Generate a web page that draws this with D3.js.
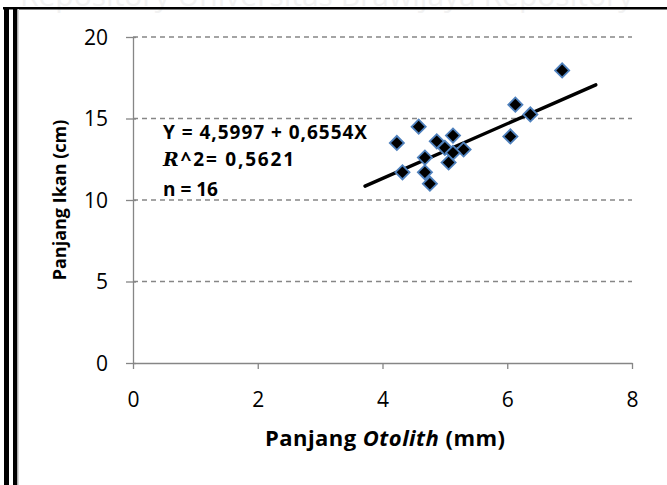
<!DOCTYPE html>
<html>
<head>
<meta charset="UTF-8"/>
<title>Panjang Otolith vs Panjang Ikan</title>
<script src="https://d3js.org/d3.v7.min.js"></script>
<style>
body { margin: 0; background: #fff; }
svg { display: block; font-family: 'Open Sans', sans-serif; }
.axis path, .axis line { stroke: #868686; stroke-width: 1.3; }
.axis text { font-size: 21px; fill: #000; font-family: 'Open Sans', sans-serif; }
.grid line { stroke: #868686; stroke-width: 1.6; stroke-dasharray: 5 4; }
.label { font-weight: 700; fill: #000; }
.eq { font-size: 19px; font-weight: 700; fill: #000; }
</style>
</head>
<body>
<svg width="667" height="485"></svg>
<script>
// data
const otolith = [6.88, 6.13, 6.37, 6.05, 4.58, 4.23, 4.87, 5.13, 5.30, 4.68, 5.00, 5.13, 5.06, 4.32, 4.68, 4.76];
const ikan    = [17.95, 15.85, 15.25, 13.9, 14.5, 13.5, 13.6, 13.95, 13.1, 12.6, 13.2, 12.9, 12.3, 11.7, 11.7, 11.0];
const xTicks = [0, 2, 4, 6, 8];
const yTicks = [0, 5, 10, 15, 20];
// trend line as drawn in the picture
const trendX = [3.72, 7.42];
const trendA = 4.6, trendB = 1.68;
const eqLines = ['Y = 4,5997 + 0,6554X', '^2= 0,5621', 'n = 16'];

const svg = d3.select('svg');

// faint watermark and page frame
svg.append('text')
  .attr('x', 20).attr('y', 6)
  .attr('font-size', 30)
  .attr('fill', '#f2f2f2')
  .text('Repository Universitas Brawijaya     Repository');

svg.append('rect').attr('x', 3).attr('y', 7).attr('width', 670).attr('height', 2.5).attr('fill', '#000');
svg.append('rect').attr('x', 4).attr('y', 7).attr('width', 5).attr('height', 480).attr('fill', '#000');
svg.append('rect').attr('x', 13).attr('y', 7).attr('width', 4.5).attr('height', 480).attr('fill', '#000');
svg.append('rect').attr('x', 17.5).attr('y', 9).attr('width', 1.5).attr('height', 480).attr('fill', '#d8d8d8');

const x = d3.scaleLinear().domain([0, 8]).range([133, 632]);
const y = d3.scaleLinear().domain([0, 20]).range([363, 37]);

// dashed horizontal gridlines
svg.append('g').attr('class', 'grid')
  .selectAll('line')
  .data(yTicks.filter(d => d > 0))
  .join('line')
  .attr('x1', x(0)).attr('x2', x(8))
  .attr('y1', d => y(d)).attr('y2', d => y(d));

const xAxis = svg.append('g').attr('class', 'axis')
  .attr('transform', `translate(0,${y(0)})`)
  .call(d3.axisBottom(x).tickValues(xTicks).tickSize(6).tickSizeOuter(0).tickPadding(23));

const yAxis = svg.append('g').attr('class', 'axis')
  .attr('transform', `translate(${x(0)},0)`)
  .call(d3.axisLeft(y).tickValues(yTicks).tickSize(7).tickSizeOuter(0).tickPadding(18));
yAxis.selectAll('.tick line').attr('x2', -7).attr('x1', 3);
yAxis.selectAll('.tick text').attr('dy', '0.35em');

// trend line
svg.append('line')
  .attr('x1', x(trendX[0])).attr('y1', y(trendA + trendB * trendX[0]))
  .attr('x2', x(trendX[1])).attr('y2', y(trendA + trendB * trendX[1]))
  .attr('stroke', '#000').attr('stroke-width', 3.4).attr('stroke-linecap', 'round');

// diamond markers
const diamond = d3.symbol().type(d3.symbolSquare).size(100);
svg.append('g')
  .selectAll('path')
  .data(otolith.map((d, i) => [d, ikan[i]]))
  .join('path')
  .attr('d', diamond)
  .attr('transform', d => `translate(${x(d[0])},${y(d[1])}) rotate(45)`)
  .attr('fill', '#000')
  .attr('stroke', '#4f81bd')
  .attr('stroke-width', 1.8);

// equation box text
svg.append('text').attr('class', 'eq').attr('x', 163).attr('y', 139)
  .attr('textLength', 204).attr('lengthAdjust', 'spacing').text(eqLines[0]);
const r2 = svg.append('text').attr('class', 'eq').attr('x', 163).attr('y', 166)
  .attr('textLength', 131).attr('lengthAdjust', 'spacing');
r2.append('tspan').attr('font-family', "'DejaVu Serif', serif").attr('font-style', 'italic').text('R');
r2.append('tspan').text(eqLines[1]);
svg.append('text').attr('class', 'eq').attr('x', 163).attr('y', 196).text(eqLines[2]);

// axis titles
svg.append('text').attr('class', 'label')
  .attr('font-size', 18)
  .attr('transform', `translate(66,${(y(0) + y(20)) / 2}) rotate(-90)`)
  .attr('text-anchor', 'middle')
  .text('Panjang Ikan (cm)');

const xl = svg.append('text').attr('class', 'label')
  .attr('font-size', 22)
  .attr('x', 265).attr('y', 446)
  .attr('textLength', 240).attr('lengthAdjust', 'spacing');
xl.append('tspan').text('Panjang ');
xl.append('tspan').attr('font-style', 'italic').text('Otolith');
xl.append('tspan').text(' (mm)');
</script>
</body>
</html>
